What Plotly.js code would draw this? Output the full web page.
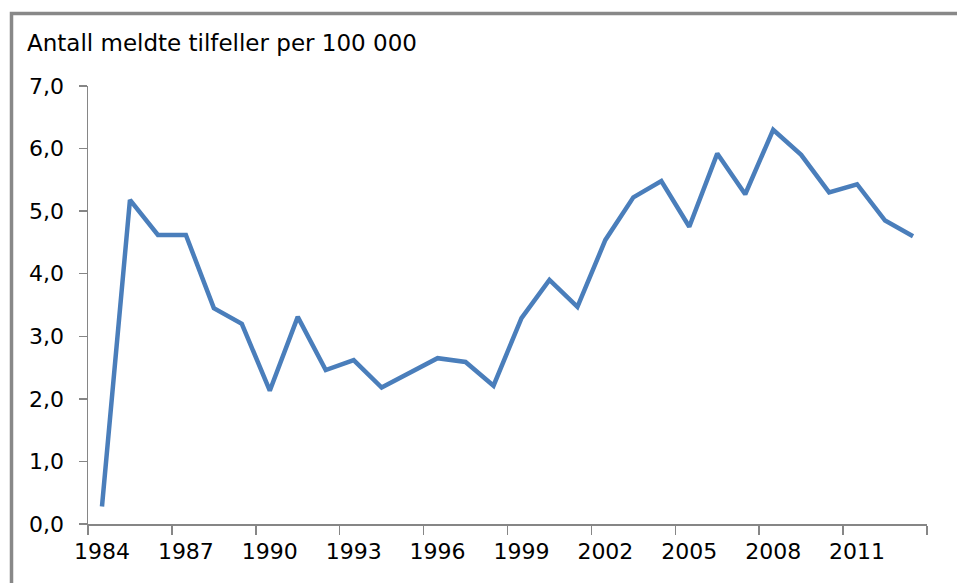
<!DOCTYPE html>
<html>
<head>
<meta charset="utf-8">
<script src="https://cdn.plot.ly/plotly-3.0.1.min.js"></script>
<style>
html,body{margin:0;padding:0;background:#fff;}
#chart{width:957px;height:583px;}
</style>
</head>
<body>
<div id="chart"></div>
<script>
const years = [1984,1985,1986,1987,1988,1989,1990,1991,1992,1993,1994,1995,1996,1997,1998,1999,2000,2001,2002,2003,2004,2005,2006,2007,2008,2009,2010,2011,2012,2013];
const values = [0.28,5.18,4.62,4.62,3.45,3.20,2.13,3.31,2.46,2.62,2.18,2.41,2.65,2.59,2.21,3.29,3.90,3.47,4.54,5.22,5.48,4.75,5.92,5.27,6.30,5.90,5.30,5.43,4.85,4.60];
const xLabelYears = [1984,1987,1990,1993,1996,1999,2002,2005,2008,2011];
const xTickBounds = [1983.5,1986.5,1989.5,1992.5,1995.5,1998.5,2001.5,2004.5,2007.5,2010.5,2013.5];
const yTicks = [0,1,2,3,4,5,6,7];
const titleText = "Antall meldte tilfeller per 100 000";

const L = 88, R = 927, T = 86, B = 524, W = 957, H = 583;
const pw = R - L, ph = B - T;
const px = v => (v - L) / pw;
const py = v => (B - v) / ph;

const axisColor = "#868686";
const fam = "DejaVu Sans, Liberation Sans, Arial, sans-serif";
const font = {family: fam, size: 22, color: "#000"};

const data = [{
  x: years, y: values, type: "scatter", mode: "lines",
  line: {color: "#4a7ebb", width: 4.5},
  hoverinfo: "x+y"
}, {
  x: xLabelYears, y: xLabelYears.map(() => null), xaxis: "x2", type: "scatter", mode: "lines",
  showlegend: false, hoverinfo: "skip"
}];

const layout = {
  width: W, height: H,
  margin: {l: L, r: W - R, t: T, b: H - B, pad: 0},
  paper_bgcolor: "#fff", plot_bgcolor: "#fff",
  showlegend: false,
  separators: ", ",
  font: font,
  title: {
    text: titleText, x: 27 / W, xanchor: "left", xref: "container",
    y: 1 - 43 / H, yanchor: "middle", yref: "container",
    font: {family: fam, size: 23, color: "#000"}
  },
  xaxis: {
    type: "linear", range: [1983.5, 2013.5],
    tickmode: "array", tickvals: xTickBounds, ticktext: xTickBounds.map(() => ""),
    ticks: "outside", ticklen: 9, tickwidth: 1.5, tickcolor: axisColor,
    showline: true, linecolor: axisColor, linewidth: 1.5,
    showgrid: false, zeroline: false, fixedrange: true
  },
  xaxis2: {
    type: "linear", range: [1983.5, 2013.5], overlaying: "x", side: "bottom",
    anchor: "y",
    tickmode: "array", tickvals: xLabelYears, ticktext: xLabelYears.map(String),
    ticks: "", ticklen: 0, showline: false, showgrid: false, zeroline: false,
    tickfont: {family: fam, size: 22, color: "#000"}, fixedrange: true,
    ticklabelstandoff: 12
  },
  yaxis: {
    range: [0, 7],
    tickmode: "array", tickvals: yTicks,
    tickformat: ".1f",
    ticks: "outside", ticklen: 8, tickwidth: 1.5, tickcolor: axisColor,
    showline: true, linecolor: axisColor, linewidth: 1.5,
    showgrid: false, zeroline: false,
    tickfont: {family: fam, size: 22, color: "#000"},
    ticklabelstandoff: 10,
    fixedrange: true
  },
  shapes: [{
    type: "rect", xref: "paper", yref: "paper",
    x0: px(11.5), x1: px(965), y0: py(595), y1: py(13.5),
    line: {color: "#888888", width: 3.5}, fillcolor: "rgba(0,0,0,0)", layer: "below"
  }]
};

Plotly.newPlot("chart", data, layout, {displayModeBar: false, staticPlot: true});
</script>
</body>
</html>
